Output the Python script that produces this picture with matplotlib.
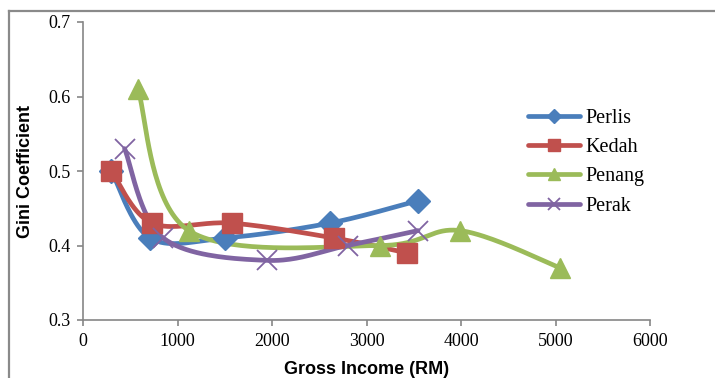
import numpy as np
import matplotlib
matplotlib.use("Agg")
import matplotlib.pyplot as plt
from matplotlib.lines import Line2D

# data
perlis_x = [300, 710, 1500, 2610, 3540]
perlis_y = [0.50, 0.41, 0.41, 0.43, 0.46]

kedah_x = [300, 730, 1580, 2660, 3430]
kedah_y = [0.50, 0.43, 0.43, 0.41, 0.39]

penang_x = [580, 1120, 3140, 3990, 5050]
penang_y = [0.61, 0.42, 0.40, 0.42, 0.37]

perak_x = [440, 850, 1950, 2800, 3545]
perak_y = [0.53, 0.41, 0.38, 0.40, 0.42]

series = [
    ("Perlis", perlis_x, perlis_y, "#4A7EBB", "D", 12, 1.0),
    ("Kedah", kedah_x, kedah_y, "#C0504D", "s", 14.5, 1.0),
    ("Penang", penang_x, penang_y, "#9BBB59", "^", 14, 1.0),
    ("Perak", perak_x, perak_y, "#8064A2", "x", 14, 1.3),
]


def smooth(x, y, n=40):
    # excel-like smoothed line: catmull-rom segments as cubic beziers
    pts = np.column_stack([x, y]).astype(float)
    P = np.vstack([pts[0], pts, pts[-1]])
    t = np.linspace(0, 1, n)[:, None]
    out = []
    for i in range(len(pts) - 1):
        p0, p1, p2, p3 = P[i], P[i + 1], P[i + 2], P[i + 3]
        c1 = p1 + (p2 - p0) / 6
        c2 = p2 - (p3 - p1) / 6
        seg = ((1 - t) ** 3) * p1 + 3 * ((1 - t) ** 2) * t * c1 \
            + 3 * (1 - t) * t ** 2 * c2 + t ** 3 * p2
        out.append(seg)
    out = np.vstack(out)
    return out[:, 0], out[:, 1]


W, H = 715, 378
fig = plt.figure(figsize=(W / 100, H / 100), dpi=100)
ax = fig.add_axes([83 / W, 1 - 320 / H, (650 - 83) / W, (320 - 22) / H])

handles = []
for name, xs, ys, col, mk, ms, mew in series:
    sx, sy = smooth(xs, ys)
    ax.plot(sx, sy, color=col, lw=3.4, solid_capstyle="round", zorder=2)
    ax.plot(xs, ys, ls="none", marker=mk, ms=ms, color=col, mec=col,
            mew=mew, zorder=3)
    handles.append(Line2D([0], [0], color=col, lw=3.4, marker=mk,
                          ms=ms * 0.6, mec=col, mew=mew,
                          solid_capstyle="round"))

ax.set_xlim(0, 6000)
ax.set_ylim(0.3, 0.7)
ax.set_xticks(np.arange(0, 6001, 1000))
ax.set_yticks([0.3, 0.4, 0.5, 0.6, 0.7])
ax.set_yticklabels(["0.3", "0.4", "0.5", "0.6", "0.7"])

for s in ["top", "right"]:
    ax.spines[s].set_visible(False)
for s in ["left", "bottom"]:
    ax.spines[s].set_color("#868686")
    ax.spines[s].set_linewidth(1.2)
ax.spines["left"].set_zorder(1)
ax.spines["bottom"].set_zorder(1)
ax.tick_params(direction="out", length=4, width=1.2, color="#868686",
               labelsize=13, pad=5)
for lab in ax.get_xticklabels() + ax.get_yticklabels():
    lab.set_fontfamily("Liberation Serif")

ax.set_xlabel("Gross Income (RM)", fontsize=13, fontweight="bold",
              family="Liberation Sans", labelpad=8)
ax.set_ylabel("Gini Coefficient", fontsize=13, fontweight="bold",
              family="Liberation Sans", labelpad=10)

ax.legend(handles, [s[0] for s in series], loc="upper left",
          bbox_to_anchor=(528 / W, 1 - 109 / H),
          bbox_transform=fig.transFigure, frameon=False,
          prop={"family": "Liberation Serif", "size": 14.5},
          handlelength=2.6, handletextpad=0.25, labelspacing=0.5,
          borderpad=0, borderaxespad=0)

# outer chart border (cropped on the right and bottom)
fig.add_artist(Line2D([9 / W, 9 / W], [1 - 11 / H, 0], transform=fig.transFigure,
                      color="#8A8A8A", lw=1.6))
fig.add_artist(Line2D([9 / W, 1], [1 - 11 / H, 1 - 11 / H],
                      transform=fig.transFigure, color="#8A8A8A", lw=1.6))

fig.savefig("out.png", dpi=100)
